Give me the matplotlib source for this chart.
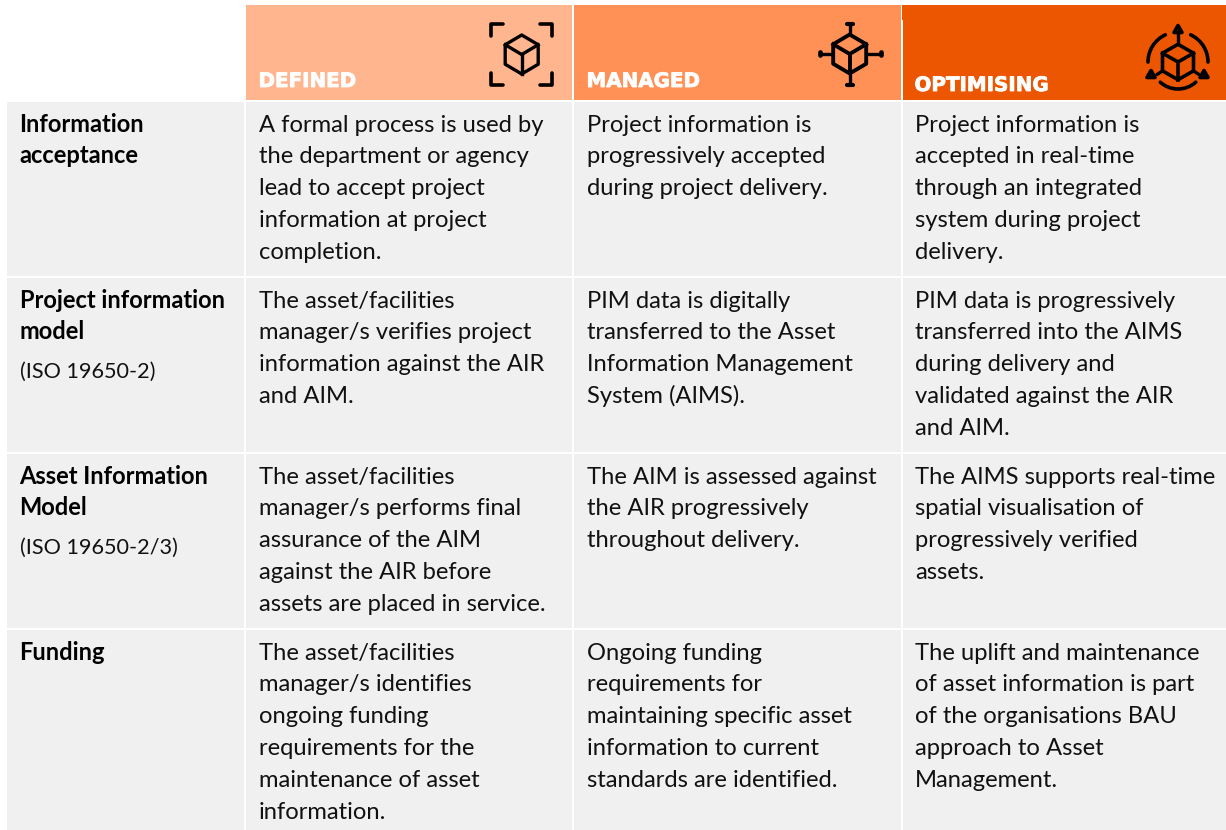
import matplotlib
matplotlib.use('Agg')
import matplotlib.pyplot as plt
import matplotlib.patheffects as pe
from matplotlib.patches import Rectangle, Polygon, Arc

BODY_FONT = 'Lato'
HEAD_FONT = 'DejaVu Sans'

levels = ['DEFINED', 'MANAGED', 'OPTIMISING']
level_colors = ['#ffb68f', '#ff9157', '#ec5600']

row_names = [
    ['Information', 'acceptance'],
    ['Project information', 'model'],
    ['Asset Information', 'Model'],
    ['Funding'],
]
row_notes = ['', '(ISO 19650-2)', '(ISO 19650-2/3)', '']

defined_text = [
    ['A formal process is used by', 'the department or agency', 'lead to accept project',
     'information at project', 'completion.'],
    ['The asset/facilities', 'manager/s verifies project', 'information against the AIR', 'and AIM.'],
    ['The asset/facilities', 'manager/s performs final', 'assurance of the AIM',
     'against the AIR before', 'assets are placed in service.'],
    ['The asset/facilities', 'manager/s identifies', 'ongoing funding', 'requirements for the',
     'maintenance of asset', 'information.'],
]
managed_text = [
    ['Project information is', 'progressively accepted', 'during project delivery.'],
    ['PIM data is digitally', 'transferred to the Asset', 'Information Management', 'System (AIMS).'],
    ['The AIM is assessed against', 'the AIR progressively', 'throughout delivery.'],
    ['Ongoing funding', 'requirements for', 'maintaining specific asset', 'information to current',
     'standards are identified.'],
]
optimising_text = [
    ['Project information is', 'accepted in real-time', 'through an integrated', 'system during project',
     'delivery.'],
    ['PIM data is progressively', 'transferred into the AIMS', 'during delivery and',
     'validated against the AIR', 'and AIM.'],
    ['The AIMS supports real-time', 'spatial visualisation of', 'progressively verified', 'assets.'],
    ['The uplift and maintenance', 'of asset information is part', 'of the organisations BAU',
     'approach to Asset', 'Management.'],
]

# layout in image pixels
col_edges = [(246, 572), (574, 901), (903, 1226)]
row_edges = [(102, 276), (278, 452), (454, 628), (630, 830)]
text_x = [259, 587, 915]
line_gap = 31.8
cell_grey = '#f0f0f0'

fig = plt.figure(figsize=(12.26, 8.30), dpi=100)
ax = fig.add_axes([0, 0, 1, 1])
ax.set_xlim(0, 1226)
ax.set_ylim(830, 0)
ax.axis('off')


def cube(cx, cy, hw, hh, lw):
    top = (cx, cy - hh)
    ur = (cx + hw, cy - hh / 2)
    lr = (cx + hw, cy + hh / 2)
    bot = (cx, cy + hh)
    ll = (cx - hw, cy + hh / 2)
    ul = (cx - hw, cy - hh / 2)
    ax.add_patch(Polygon([top, ur, lr, bot, ll, ul], closed=True, fill=False, ec='black', lw=lw, joinstyle='round'))
    ax.plot([ul[0], cx, ur[0]], [ul[1], cy, ur[1]], color='black', lw=lw, solid_joinstyle='round')
    ax.plot([cx, cx], [cy, bot[1]], color='black', lw=lw)


def line(xs, ys, lw=2.4):
    ax.plot(xs, ys, color='black', lw=lw, solid_capstyle='round', solid_joinstyle='round')


# header cells
for (x0, x1), col in zip(col_edges, level_colors):
    ax.add_patch(Rectangle((x0, 5), x1 - x0, 95, color=col, lw=0))
ax.add_patch(Rectangle((901.5, 5), 1.5, 15, color=level_colors[2], lw=0))

head_y = [87, 87, 91]
for x, name, y in zip(text_x, levels, head_y):
    ax.text(x - 0.5, y, name, color='white', fontsize=14.3, fontweight='bold', family=HEAD_FONT, va='baseline',
            path_effects=[pe.withStroke(linewidth=0.6, foreground='white')])

# body cells
for y0, y1 in row_edges:
    ax.add_patch(Rectangle((7, y0), 237, y1 - y0, color=cell_grey, lw=0))
    for x0, x1 in col_edges:
        ax.add_patch(Rectangle((x0, y0), x1 - x0, y1 - y0, color=cell_grey, lw=0))

for (y0, y1), names, note in zip(row_edges, row_names, row_notes):
    for i, s in enumerate(names):
        ax.text(19.5, y0 + 29.5 + i * line_gap, s, color='black', fontsize=17, fontweight='bold',
                family=BODY_FONT, va='baseline')
    if note:
        ax.text(19.5, y0 + 100, note, color='#111111', fontsize=15.6, family=BODY_FONT, va='baseline')

for x, col_text in zip(text_x, [defined_text, managed_text, optimising_text]):
    for (y0, y1), lines in zip(row_edges, col_text):
        for i, s in enumerate(lines):
            ax.text(x, y0 + 29.5 + i * line_gap, s, color='#111111', fontsize=17.1,
                    family=BODY_FONT, va='baseline')

# DEFINED icon
cube(521.7, 54.5, 16.5, 19.5, 2.4)
for bx, by, sx, sy in [(491, 24, 1, 1), (552, 24, -1, 1), (491, 85, 1, -1), (552, 85, -1, -1)]:
    line([bx, bx, bx + 12 * sx], [by + 12 * sy, by, by], 2.6)

# MANAGED icon
cube(849.7, 54, 16.5, 19.5, 2.8)
line([849.7, 849.7], [25, 33])
line([849.7, 849.7], [75, 84])
line([820, 832], [54, 54])
line([867, 880], [54, 54])
line([847, 852.5], [24, 24], 3)
line([847, 852.5], [85, 85], 3)
line([819.5, 819.5], [52.5, 55.5], 3.4)
line([880.5, 880.5], [52.5, 55.5], 3.4)

# OPTIMISING icon
cube(1178, 62, 15.5, 17.7, 2.6)
for tx, ty in [(1178, 25.5), (1151, 70.5), (1204, 70.5)]:
    ax.add_patch(Polygon([(tx, ty), (tx + 4, ty + 7), (tx - 4, ty + 7)], closed=True, fill=True, fc='#3a1500',
                         ec='black', lw=2.6, joinstyle='round'))
line([1178, 1178], [33, 44])
line([1157, 1162.5], [74.5, 71])
line([1199, 1193.5], [74.5, 71])
for a1, a2 in [(180, 245), (295, 360)]:
    ax.add_patch(Arc((1178, 62), 60, 60, theta1=a1, theta2=a2, ec='black', lw=2.6, capstyle='round'))
ax.add_patch(Arc((1178, 62.5), 53, 53, theta1=48, theta2=132, ec='black', lw=2.6, capstyle='round'))

fig.savefig('out.png', dpi=100, facecolor='white')
